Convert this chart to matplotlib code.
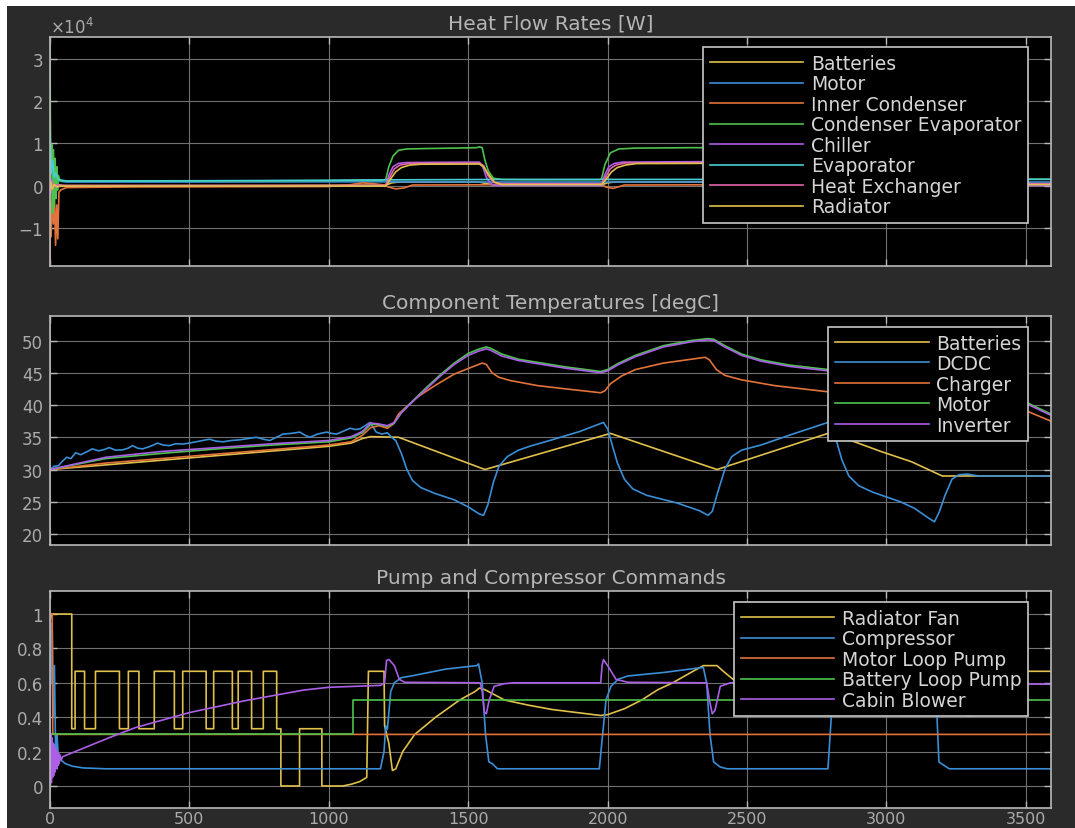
import matplotlib
matplotlib.use("Agg")
import matplotlib.pyplot as plt
from matplotlib.patches import Rectangle
from matplotlib.ticker import ScalarFormatter, FuncFormatter

plt.rcParams['font.family'] = ['DejaVu Sans']
plt.rcParams['axes.unicode_minus'] = False

T_END = 3590
X_TICKS = [0, 500, 1000, 1500, 2000, 2500, 3000, 3500]

# ---------------- colours ----------------
C_YEL = '#e0c04a'
C_BLU = '#3a8ed6'
C_ORA = '#e2733a'
C_GRN = '#4cc34c'
C_PUR = '#aa5fe6'
C_CYA = '#46cfd6'
C_PNK = '#e463a9'

# ---------------- Heat flow rates [W] ----------------
hf_labels = ['Batteries', 'Motor', 'Inner Condenser', 'Condenser Evaporator',
             'Chiller', 'Evaporator', 'Heat Exchanger', 'Radiator']

hf_batt_t = [0, 2, 6, 12, 20, 30, 45, 60, 300, 800, 1100, 1204, 1225, 1250, 1540, 1560, 1590, 1978, 1998, 2025,
             2345, 2365, 2395, 2798, 2818, 2845, 3165, 3185, 3215, 3590]
hf_batt_w = [0, 1500, -1500, 800, -400, 300, 100, 50, 50, 80, 150, 150, 700, 900, 900, 600, 200, 200, 700, 900,
             900, 600, 200, 200, 700, 900, 900, 600, 200, 200]

hf_motor_t = [0, 2, 5, 10, 15, 20, 30, 45, 60, 500, 1000, 1200, 1600, 3590]
hf_motor_w = [10000, 4000, 7000, 2000, 4000, 1500, 1200, 1000, 900, 900, 950, 950, 900, 900]

hf_cond_t = [0, 1, 4, 8, 12, 16, 20, 24, 28, 32, 40, 60, 300, 1000, 1080, 1120, 1160, 1200, 1215, 1240,
             1270, 1300, 1550, 1600, 1978, 1995, 2020, 2060, 2355, 2400, 2798, 2815, 2840, 2880, 3176, 3220, 3590]
hf_cond_w = [-18800, -4000, -12000, -2000, -9000, -3000, -14000, -4500, -12500, -1500, -900, -400, -250, -150,
             300, 700, 500, 200, -300, -700, -500, 200, 250, 300, 300, -300, -600, 200, 250, 350,
             350, -300, -600, 200, 250, 350, 400]

hf_ce_t = [0, 1, 3, 6, 9, 12, 15, 18, 21, 24, 27, 30, 35, 45, 60, 200, 500, 800, 1000, 1100, 1190, 1204, 1215,
           1230, 1250, 1280, 1350, 1450, 1530, 1540, 1550, 1560, 1572, 1590, 1620, 1700, 1970, 1978, 1990, 2010,
           2040, 2100, 2200, 2300, 2340, 2350, 2362, 2375, 2400, 2450, 2790, 2798, 2810, 2830, 2860, 2920, 3000,
           3100, 3160, 3170, 3182, 3195, 3220, 3300, 3590]
hf_ce_w = [35000, 18000, 3000, 9800, -6500, 8500, -5000, 6500, -3000, 4500, -1000, 2500, 1300, 1150, 1100,
           1120, 1150, 1200, 1250, 1300, 1300, 1500, 4500, 7000, 8400, 8700, 8800, 8900, 9000, 9200, 9000, 6000,
           3500, 1800, 1500, 1450, 1450, 1600, 5000, 7800, 8700, 8900, 8950, 9000, 9000, 9100, 7000, 3500, 1700,
           1500, 1500, 1600, 5000, 7800, 8700, 8900, 8950, 9000, 9000, 9100, 7000, 3500, 1700, 1550, 1550]

hf_chil_t = [0, 2, 5, 10, 20, 40, 1204, 1215, 1230, 1250, 1280, 1400, 1540, 1552, 1565, 1580, 1600, 1978, 1989,
             2004, 2024, 2054, 2200, 2345, 2357, 2370, 2385, 2405, 2798, 2809, 2824, 2844, 2874, 3020, 3166,
             3178, 3191, 3206, 3226, 3590]
hf_chil_w = [3000, -2000, 1500, -500, 200, 0, 0, 2500, 4500, 5300, 5500, 5550, 5600, 4500, 2000, 500, 100, 100,
             2500, 4500, 5300, 5600, 5650, 5700, 4500, 2000, 500, 100, 100, 2500, 4500, 5300, 5600, 5650, 5700,
             4500, 2000, 500, 100, 100]

hf_evap_t = [0, 2, 5, 10, 15, 20, 30, 45, 60, 500, 1000, 1150, 1600, 3590]
hf_evap_w = [12500, 9000, 3000, 6000, 2000, 3000, 1500, 1300, 1150, 1200, 1300, 1400, 1500, 1550]

hf_hx_t = [0, 3, 8, 15, 25, 40, 1204, 1218, 1235, 1255, 1290, 1540, 1555, 1570, 1590, 1620, 1978, 1992, 2009,
           2029, 2064, 2345, 2360, 2375, 2395, 2425, 2798, 2812, 2829, 2849, 2884, 3166, 3181, 3196, 3216, 3246, 3590]
hf_hx_w = [1000, -1500, 800, -300, 200, 100, 100, 2000, 4000, 4900, 5300, 5350, 4800, 2500, 900, 500, 500, 2000,
           4000, 4900, 5400, 5450, 4800, 2500, 900, 500, 500, 2000, 4000, 4900, 5400, 5450, 4800, 2500, 900, 500, 500]

hf_rad_t = [0, 3, 8, 15, 25, 40, 60, 1204, 1220, 1240, 1260, 1290, 1330, 1540, 1555, 1575, 1595, 1620, 1978,
            1994, 2014, 2034, 2064, 2104, 2345, 2360, 2380, 2400, 2425, 2798, 2814, 2834, 2854, 2884, 2924, 3166,
            3181, 3201, 3221, 3246, 3590]
hf_rad_w = [-1500, 1000, -800, 300, -200, -100, -50, -50, 1500, 3300, 4300, 4900, 5100, 5150, 4500, 2500, 800,
            300, 300, 1500, 3300, 4300, 4900, 5250, 5300, 4500, 2500, 800, 300, 300, 1500, 3300, 4300, 4900, 5250,
            5300, 4500, 2500, 800, 300, 300]

# ---------------- Component temperatures [degC] ----------------
temp_labels = ['Batteries', 'DCDC', 'Charger', 'Motor', 'Inverter']

temp_batt_t = [0, 500, 1000, 1080, 1120, 1150, 1250, 1560, 2010, 2392, 2797, 2980, 3090, 3200, 3590]
temp_batt_v = [30.0, 31.8, 33.6, 34.1, 34.8, 35.1, 35.0, 30.0, 35.6, 30.0, 35.7, 32.8, 31.2, 29.0, 29.0]

temp_dcdc_t = [0, 15, 30, 45, 60, 75, 92, 110, 130, 152, 175, 195, 212, 235, 260, 280, 296, 315, 332, 360,
               386, 405, 428, 450, 476, 500, 524, 548, 572, 595, 620, 650, 680, 710, 740, 765, 788, 812, 836, 865,
               896, 915, 932, 960, 992, 1010, 1028, 1050, 1076, 1095, 1112, 1130, 1148,
               1170, 1190, 1210, 1225,
               1240, 1260, 1280, 1300, 1330, 1380, 1450, 1500, 1540, 1555, 1570, 1590, 1610, 1640, 1680, 1720,
               1800, 1900, 1985,
               2000, 2015, 2035, 2060, 2090, 2140, 2250, 2330, 2360, 2375, 2395, 2420, 2445, 2480, 2550, 2650, 2790,
               2805, 2820, 2840, 2865, 2900, 2950, 3050, 3100, 3150, 3172, 3190, 3210, 3235, 3260, 3290, 3330, 3590]
temp_dcdc_v = [30.0, 30.5, 30.6, 31.3, 31.9, 31.7, 32.6, 32.3, 32.7, 33.2, 32.9, 33.1, 33.4, 33.0, 33.05, 33.3,
               33.7, 33.3, 33.2, 33.6, 34.1, 33.8, 33.7, 34.0, 33.95, 34.1, 34.3, 34.5, 34.7, 34.4, 34.3, 34.5,
               34.6, 34.8, 35.0, 34.7, 34.5, 35.0, 35.5, 35.6, 35.8, 35.3, 35.0, 35.5, 35.8, 35.6, 35.5, 35.9,
               36.4, 36.2, 36.3, 36.8, 37.3,
               35.8, 35.5, 35.7, 35.0,
               34.5, 32.5, 30.0, 28.3, 27.2, 26.3, 25.3, 24.2, 23.1, 22.9, 24.5, 28.0, 30.5, 32.0, 33.0, 33.6,
               34.6, 35.9, 37.3,
               36.3, 34.0, 31.0, 28.5, 27.0, 26.0, 24.8, 23.6, 22.9, 23.5, 26.5, 30.0, 32.0, 33.0, 33.8, 35.3, 37.3,
               36.5, 34.5, 31.5, 29.0, 27.5, 26.5, 25.0, 24.0, 22.5, 21.9, 23.5, 26.0, 28.5, 29.2, 29.3, 29.0, 29.0]

temp_chg_t = [0, 200, 400, 600, 800, 1000, 1080, 1120, 1150, 1180, 1210, 1230, 1250, 1280, 1320, 1380, 1450,
              1520, 1550, 1565, 1585, 1610, 1650, 1750, 1850, 1975, 1990, 2010, 2050, 2100, 2200, 2300, 2350,
              2365, 2390, 2420, 2480, 2600, 2700, 2800, 2900, 3000, 3100, 3176, 3250, 3350, 3450, 3507, 3590]
temp_chg_v = [30, 31.0, 31.7, 32.4, 33.1, 33.8, 34.3, 35.3, 36.5, 36.8, 36.4, 37.0, 38.6, 39.8, 41.3, 43.0, 44.8,
              46.0, 46.5, 46.3, 45.0, 44.3, 43.8, 43.0, 42.5, 41.9, 42.2, 43.3, 44.5, 45.5, 46.5, 47.1, 47.4,
              47.0, 45.5, 44.6, 43.9, 43.0, 42.5, 42.0, 42.8, 44.0, 44.8, 45.2, 43.5, 42.0, 40.6, 39.0, 37.5]

temp_mi_t = [0, 200, 400, 600, 800, 1000, 1080, 1120, 1150, 1175, 1210, 1235, 1260, 1300, 1350, 1400, 1450, 1500,
             1540, 1565, 1580, 1620, 1680, 1750, 1850, 1975, 2000, 2040, 2100, 2200, 2300, 2360, 2380, 2420, 2480,
             2550, 2650, 2790, 2900, 3000, 3100, 3176, 3230, 3300, 3400, 3507, 3590]
temp_mot_v = [30, 31.7, 32.5, 33.2, 33.8, 34.3, 34.9, 35.7, 37.0, 37.0, 36.7, 37.2, 38.8, 40.6, 42.7, 44.7, 46.5,
              48.0, 48.7, 49.0, 48.8, 47.9, 47.1, 46.6, 45.9, 45.2, 45.5, 46.5, 47.7, 49.2, 50.0, 50.3, 50.2, 49.2,
              47.9, 47.0, 46.2, 45.5, 45.8, 46.6, 47.2, 47.5, 46.2, 44.7, 42.7, 40.3, 38.6]
temp_inv_v = [30, 31.9, 32.8, 33.4, 34.0, 34.5, 35.1, 35.9, 37.2, 37.1, 36.8, 37.3, 38.8, 40.5, 42.5, 44.5, 46.3,
              47.7, 48.4, 48.7, 48.5, 47.6, 46.9, 46.4, 45.7, 45.0, 45.3, 46.3, 47.5, 49.0, 49.8, 50.1, 50.0, 49.0,
              47.7, 46.8, 46.0, 45.3, 45.6, 46.4, 47.0, 47.3, 46.0, 44.5, 42.5, 40.1, 38.4]

# ---------------- Pump and compressor commands ----------------
cmd_labels = ['Radiator Fan', 'Compressor', 'Motor Loop Pump', 'Battery Loop Pump', 'Cabin Blower']

cmd_fan_t = [0, 5, 78, 78, 90, 90, 124, 124, 163, 163, 249, 249, 281, 281, 319, 319, 374, 374, 446, 446, 476,
             476, 560, 560, 587, 587, 654, 654, 675, 675, 723, 723, 765, 765, 813, 813, 828, 828, 895, 895, 975,
             975, 1050,
             1080, 1110, 1136, 1142, 1198, 1200, 1215, 1228, 1240, 1265, 1308, 1383, 1469, 1525, 1540, 1560, 1630,
             1716, 1800, 1900, 1975, 2000, 2061, 2122, 2180, 2233, 2306, 2343, 2392, 2420, 2480, 2560, 2650, 2720,
             2790, 2830, 2860, 2950, 3050, 3150, 3176, 3200, 3240, 3270, 3285, 3310, 3325, 3335, 3590]
cmd_fan_v = [0.95, 1, 1, 0.333, 0.333, 0.667, 0.667, 0.333, 0.333, 0.667, 0.667, 0.333, 0.333, 0.667, 0.667,
             0.333, 0.333, 0.667, 0.667, 0.333, 0.333, 0.667, 0.667, 0.333, 0.333, 0.667, 0.667, 0.333, 0.333,
             0.667, 0.667, 0.333, 0.333, 0.667, 0.667, 0.333, 0.333, 0, 0, 0.333, 0.333, 0, 0,
             0.01, 0.025, 0.05, 0.667, 0.667, 0.35, 0.25, 0.09, 0.1, 0.2, 0.3, 0.4, 0.5, 0.55, 0.57, 0.56, 0.5,
             0.47, 0.445, 0.425, 0.41, 0.415, 0.45, 0.5, 0.56, 0.6, 0.667, 0.7, 0.7, 0.66, 0.58, 0.51, 0.46,
             0.435, 0.425, 0.42, 0.44, 0.52, 0.6, 0.67, 0.69, 0.65, 0.5, 0.43, 0.41, 0.41, 0.45, 0.667, 0.667]

cmd_comp_t = [0, 2, 5, 8, 12, 16, 20, 25, 30, 40, 55, 80, 120, 200,
              1185, 1198, 1204, 1210, 1222, 1235, 1260, 1296, 1358, 1420, 1530, 1537, 1550, 1562, 1574, 1586, 1605,
              1970, 1982, 1994, 2012, 2037, 2073, 2200, 2343, 2355, 2367, 2380, 2404, 2429,
              2790, 2802, 2815, 2830, 2860, 2900, 3050, 3165, 3176, 3188, 3225, 3590]
cmd_comp_v = [0, 0.95, 0.6, 0.9, 0.4, 0.7, 0.2, 0.3, 0.16, 0.15, 0.13, 0.115, 0.105, 0.1,
              0.1, 0.2, 0.35, 0.33, 0.55, 0.6, 0.63, 0.64, 0.66, 0.68, 0.70, 0.71, 0.6, 0.3, 0.14, 0.13, 0.1,
              0.1, 0.3, 0.5, 0.58, 0.62, 0.64, 0.66, 0.69, 0.6, 0.3, 0.14, 0.11, 0.1,
              0.1, 0.4, 0.55, 0.6, 0.63, 0.64, 0.67, 0.69, 0.6, 0.14, 0.1, 0.1]

cmd_mlp_t = [0, 8, 10, 3590]
cmd_mlp_v = [1.0, 1.0, 0.3, 0.3]

cmd_blp_t = [0, 1086, 1086, 3590]
cmd_blp_v = [0.3, 0.3, 0.5, 0.5]

cmd_blow_t = [0, 1, 3, 5, 7, 9, 11, 13, 15, 17, 19, 21, 23, 25, 27, 29, 31, 33,
              36, 40, 45, 90, 211, 307, 500, 693, 910, 1000, 1185,
              1200, 1207, 1216, 1235, 1253, 1272, 1543, 1550, 1558, 1565, 1575, 1593, 1630, 1660,
              1975, 1980, 1985, 2000, 2030, 2073, 2355, 2365, 2375, 2385, 2404, 2440,
              2795, 2800, 2805, 2820, 2850, 2893, 3172, 3180, 3188, 3198, 3215, 3250, 3590]
cmd_blow_v = [1.0, 0.0, 0.3, 0.02, 0.28, 0.05, 0.25, 0.06, 0.24, 0.08, 0.22, 0.1, 0.21, 0.1, 0.2, 0.12, 0.19, 0.13,
              0.18, 0.15, 0.17, 0.2, 0.28, 0.34, 0.427, 0.494, 0.558, 0.574, 0.585,
              0.6, 0.73, 0.735, 0.7, 0.62, 0.603, 0.6, 0.55, 0.43, 0.42, 0.5, 0.58, 0.595, 0.6,
              0.6, 0.7, 0.735, 0.7, 0.62, 0.603, 0.6, 0.5, 0.42, 0.44, 0.58, 0.6,
              0.6, 0.7, 0.735, 0.7, 0.62, 0.603, 0.6, 0.5, 0.43, 0.45, 0.58, 0.595, 0.592]

# ---------------- figure ----------------
W, H = 1075, 829
fig = plt.figure(figsize=(W / 100, H / 100), dpi=100, facecolor='white')
fig.patches.append(Rectangle((7 / W, 0), 1, 1 - 7 / H, transform=fig.transFigure,
                             facecolor='#2a2a2a', edgecolor='none', zorder=-10))

AX_L, AX_R = 50, 1051


def make_ax(top, bottom):
    return fig.add_axes([AX_L / W, (H - bottom) / H, (AX_R - AX_L) / W, (bottom - top) / H])


GRID_C = '#7d7d7d'
SPINE_C = '#b8b8b8'
TICKLAB_C = '#ababab'
TITLE_C = '#b5b5b5'
LW = 1.2


def style(ax, ylim, yticks, title, show_x):
    ax.set_facecolor('black')
    ax.set_xlim(0, T_END)
    ax.set_ylim(*ylim)
    ax.set_xticks(X_TICKS)
    ax.set_yticks(yticks)
    ax.grid(True, color=GRID_C, linewidth=0.8, alpha=0.9)
    ax.set_axisbelow(True)
    for s in ax.spines.values():
        s.set_color(SPINE_C)
        s.set_linewidth(1.2)
    ax.tick_params(direction='in', length=5, width=1, color=SPINE_C, labelcolor=TICKLAB_C,
                   labelsize=12, top=True, right=True, pad=5)
    if show_x:
        ax.tick_params(axis='x', pad=2, labelsize=11.5)
    else:
        ax.tick_params(labelbottom=False)
    ax.set_title(title, color=TITLE_C, fontsize=14.5, pad=6)


def legend(ax, anchor):
    leg = ax.legend(loc='upper right', bbox_to_anchor=anchor, fontsize=13.5, handlelength=5.0,
                    handletextpad=0.4, labelspacing=0.08, borderpad=0.35, borderaxespad=0,
                    frameon=True, fancybox=False, facecolor='black', edgecolor='#c8c8c8', framealpha=1)
    leg.get_frame().set_linewidth(1.2)
    for t in leg.get_texts():
        t.set_color('#d5d5d5')
    return leg


# ---- top panel ----
ax1 = make_ax(38, 267)
ax1.plot(hf_batt_t, hf_batt_w, color=C_YEL, lw=LW, label=hf_labels[0])
ax1.plot(hf_motor_t, hf_motor_w, color=C_BLU, lw=LW, label=hf_labels[1])
ax1.plot(hf_cond_t, hf_cond_w, color=C_ORA, lw=LW, label=hf_labels[2])
ax1.plot(hf_ce_t, hf_ce_w, color=C_GRN, lw=LW, label=hf_labels[3])
ax1.plot(hf_chil_t, hf_chil_w, color=C_PUR, lw=LW, label=hf_labels[4])
ax1.plot(hf_evap_t, hf_evap_w, color=C_CYA, lw=LW, label=hf_labels[5])
ax1.plot(hf_hx_t, hf_hx_w, color=C_PNK, lw=LW, label=hf_labels[6])
ax1.plot(hf_rad_t, hf_rad_w, color=C_YEL, lw=LW, label=hf_labels[7])
style(ax1, (-18900, 35100), [-10000, 0, 10000, 20000, 30000], 'Heat Flow Rates [W]', False)
fmt = ScalarFormatter(useMathText=True)
fmt.set_powerlimits((0, 0))
ax1.yaxis.set_major_formatter(fmt)
off = ax1.yaxis.get_offset_text()
off.set_color(TICKLAB_C)
off.set_fontsize(12)
legend(ax1, (0.977, 0.956))

# ---- middle panel ----
ax2 = make_ax(317, 546)
ax2.plot(temp_batt_t, temp_batt_v, color=C_YEL, lw=LW, label=temp_labels[0])
ax2.plot(temp_dcdc_t, temp_dcdc_v, color=C_BLU, lw=LW, label=temp_labels[1])
ax2.plot(temp_chg_t, temp_chg_v, color=C_ORA, lw=LW, label=temp_labels[2])
ax2.plot(temp_mi_t, temp_mot_v, color=C_GRN, lw=LW, label=temp_labels[3])
ax2.plot(temp_mi_t, temp_inv_v, color=C_PUR, lw=LW, label=temp_labels[4])
style(ax2, (18.3, 53.8), [20, 25, 30, 35, 40, 45, 50], 'Component Temperatures [degC]', False)
legend(ax2, (0.977, 0.952))

# ---- bottom panel ----
ax3 = make_ax(592, 809)
ax3.plot(cmd_fan_t, cmd_fan_v, color=C_YEL, lw=LW, label=cmd_labels[0])
ax3.plot(cmd_comp_t, cmd_comp_v, color=C_BLU, lw=LW, label=cmd_labels[1])
ax3.plot(cmd_mlp_t, cmd_mlp_v, color=C_ORA, lw=LW, label=cmd_labels[2])
ax3.plot(cmd_blp_t, cmd_blp_v, color=C_GRN, lw=LW, label=cmd_labels[3])
ax3.plot(cmd_blow_t, cmd_blow_v, color=C_PUR, lw=LW, label=cmd_labels[4])
style(ax3, (-0.128, 1.134), [0, 0.2, 0.4, 0.6, 0.8, 1.0], 'Pump and Compressor Commands', True)
ax3.yaxis.set_major_formatter(FuncFormatter(lambda v, p: '%g' % v))
legend(ax3, (0.977, 0.949))

fig.savefig('out.png', dpi=100, facecolor=fig.get_facecolor())
